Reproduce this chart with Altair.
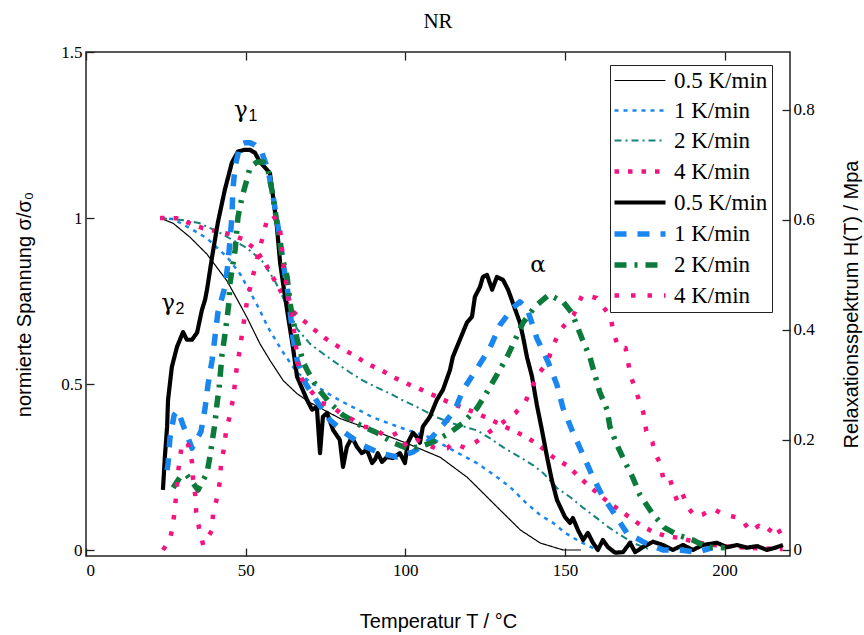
import altair as alt
import pandas as pd

# ---------------- data ----------------
# normalised stress sigma/sigma0 (left axis), thin lines
x_s05 = [23.2, 27.3, 32.6, 37.9, 44.2, 47.3, 50.5, 54.5, 57.7, 61.8, 66.1, 70.2, 79.6, 90.0, 100.6, 111.0,
         119.4, 123.5, 128.2, 132.3, 136.1, 142.3, 149.5, 155.0]
y_s05 = [1.0, 0.984, 0.942, 0.891, 0.81, 0.756, 0.699, 0.621, 0.57, 0.51, 0.471, 0.444, 0.396, 0.36, 0.321, 0.279,
         0.219, 0.18, 0.135, 0.096, 0.06, 0.021, 0.0, 0.0]

x_s1 = [23.2, 27.3, 32.6, 37.9, 44.5, 48.3, 53.6, 57.1, 61.4, 66.1, 74.3, 79.6, 90.0, 98.4, 107.8, 115.0, 122.6,
        128.8, 132.9, 137.6, 142.3, 146.4, 150.2, 154.9, 160.2]
y_s1 = [1.0, 0.997, 0.969, 0.939, 0.879, 0.831, 0.738, 0.669, 0.6, 0.534, 0.48, 0.45, 0.399, 0.369, 0.339, 0.30, 0.261,
        0.219, 0.189, 0.144, 0.105, 0.081, 0.051, 0.024, 0.0]

x_s2 = [23.2, 31.0, 35.7, 41.1, 50.5, 55.2, 59.2, 63.0, 66.1, 70.2, 74.3, 78.7, 82.8, 86.8, 91.2, 95.3, 99.4, 104.7,
        110.0, 115.0, 122.6, 126.6, 130.7, 136.1, 140.1, 143.3, 147.6, 151.7, 155.5, 159.6, 163.6, 167.4, 171.5, 176.8]
y_s2 = [1.0, 0.993, 0.984, 0.96, 0.909, 0.87, 0.81, 0.735, 0.666, 0.621, 0.591, 0.561, 0.534, 0.51, 0.489, 0.471, 0.45,
        0.426, 0.399, 0.381, 0.36, 0.336, 0.309, 0.279, 0.255, 0.231, 0.186, 0.159, 0.129, 0.099, 0.069, 0.045, 0.021, 0.0]

x_s4 = [23.2, 28.5, 32.6, 36.7, 41.1, 45.1, 49.2, 53.0, 56.1, 59.2, 61.8, 63.9, 70.8, 75.2, 79.6, 83.7, 88.1, 92.2,
        96.6, 100.6, 105.0, 109.1, 113.2, 117.9, 121.9, 126.0, 130.4, 134.5, 138.2, 142.3, 146.4, 151.1, 154.2, 158.0,
        163.6, 169.3, 173.7, 177.7, 181.8, 186.2, 190.9, 198.7, 208.2, 218.2]
y_s4 = [1.0, 0.999, 0.984, 0.969, 0.96, 0.951, 0.936, 0.906, 0.864, 0.81, 0.765, 0.726, 0.669, 0.636, 0.609, 0.588,
        0.561, 0.543, 0.519, 0.501, 0.483, 0.465, 0.447, 0.429, 0.414, 0.396, 0.375, 0.357, 0.339, 0.312, 0.279, 0.252,
        0.222, 0.189, 0.144, 0.105, 0.075, 0.054, 0.042, 0.036, 0.024, 0.012, 0.006, 0.003]

# relaxation spectrum H(T) / MPa (right axis), thick lines
x_h05 = [24.1, 24.7, 25.4, 25.7, 26.9, 28.5, 30.4, 31.6, 33.2, 34.8, 36.3, 37.3, 37.9, 39.5, 41.3, 43.5, 45.7, 47.6,
         49.5, 51.4, 52.9, 54.5, 57.6, 58.6, 59.8, 60.8, 61.7, 63.3, 64.8, 66.1, 69.2, 70.8, 72.3, 73.3, 74.2, 75.5,
         77.4, 79.5, 80.5, 81.7, 83.3, 84.9, 86.4, 88.0, 89.6, 90.5, 91.4, 92.7, 94.3, 96.1, 98.3, 99.9, 100.8, 102.4,
         103.7, 104.6, 105.5, 107.7, 109.9, 111.8, 114.0, 114.9, 117.1, 119.3, 120.9, 121.8, 123.4, 124.3, 125.6,
         127.2, 128.7, 130.6, 132.2, 133.7, 135.9, 136.9, 138.1, 139.7, 141.2, 142.8, 144.4, 145.9, 147.5, 150.0,
         151.6, 152.5, 154.1, 155.7, 157.2, 158.8, 160.3, 161.9, 163.5, 165.7, 168.2, 170.4, 172.0, 174.4, 177.6,
         180.7, 183.8, 187.0, 190.1, 193.2, 197.6, 200.8, 203.9, 207.0, 210.2, 213.3, 216.4, 218.3]
y_h05 = [0.109, 0.169, 0.224, 0.273, 0.333, 0.369, 0.396, 0.382, 0.382, 0.395, 0.436, 0.455, 0.473, 0.533, 0.595,
         0.655, 0.704, 0.724, 0.727, 0.727, 0.722, 0.705, 0.685, 0.642, 0.587, 0.522, 0.485, 0.424, 0.369, 0.315,
         0.273, 0.255, 0.26, 0.176, 0.242, 0.249, 0.218, 0.2, 0.151, 0.187, 0.205, 0.187, 0.176, 0.182, 0.158, 0.164,
         0.176, 0.16, 0.169, 0.167, 0.176, 0.158, 0.195, 0.213, 0.205, 0.195, 0.224, 0.242, 0.273, 0.291, 0.327,
         0.351, 0.382, 0.413, 0.424, 0.46, 0.478, 0.496, 0.5, 0.473, 0.496, 0.491, 0.473, 0.449, 0.413, 0.387, 0.351,
         0.315, 0.264, 0.218, 0.169, 0.127, 0.091, 0.06, 0.049, 0.058, 0.036, 0.018, 0.031, 0.013, 0.0, 0.018, 0.005,
         -0.005, -0.004, 0.013, -0.004, 0.005, 0.015, 0.009, 0.0, 0.009, 0.0, 0.009, 0.013, 0.005, 0.009, 0.004,
         0.007, 0.0, 0.005, 0.009]

x_h1 = [25.4, 25.7, 26.3, 27.6, 28.8, 30.4, 33.2, 36.0, 37.3, 38.2, 39.5, 40.4, 41.3, 43.5, 44.5, 45.1, 45.7, 46.0,
        46.7, 48.2, 49.8, 51.4, 52.9, 55.1, 57.0, 58.6, 59.8, 60.8, 61.7, 63.0, 63.9, 64.8, 66.1, 68.6, 72.7, 76.4,
        81.1, 86.4, 92.1, 97.4, 102.4, 106.8, 111.8, 115.6, 118.1, 122.8, 126.5, 129.7, 133.7, 135.9, 138.1, 141.2,
        144.7, 147.5, 149.4, 152.2, 155.3, 158.5, 161.6, 165.7, 169.4, 175.1, 180.7, 186.0, 191.4, 196.1]
y_h1 = [0.145, 0.158, 0.204, 0.245, 0.253, 0.227, 0.185, 0.215, 0.258, 0.3, 0.345, 0.387, 0.431, 0.478, 0.522, 0.564,
        0.605, 0.655, 0.696, 0.736, 0.74, 0.74, 0.736, 0.722, 0.691, 0.642, 0.6, 0.564, 0.522, 0.478, 0.436, 0.387,
        0.345, 0.304, 0.267, 0.236, 0.213, 0.191, 0.176, 0.169, 0.178, 0.195, 0.227, 0.255, 0.291, 0.333, 0.367,
        0.409, 0.44, 0.451, 0.44, 0.385, 0.342, 0.3, 0.258, 0.218, 0.178, 0.136, 0.1, 0.064, 0.031, 0.013, 0.0, 0.0,
        -0.004, 0.004]

x_h2 = [27.3, 29.5, 31.6, 35.1, 37.9, 38.8, 40.4, 41.0, 41.7, 42.6, 43.5, 44.2, 44.8, 45.1, 46.7, 47.6, 48.9, 50.4,
        51.4, 53.6, 55.4, 57.0, 58.6, 60.1, 61.4, 63.0, 63.9, 64.8, 66.4, 68.0, 69.5, 72.3, 76.4, 80.5, 85.8, 91.1,
        96.1, 100.5, 104.0, 108.7, 114.0, 118.1, 122.5, 125.6, 128.7, 131.9, 134.4, 136.9, 140.6, 145.0, 149.4, 152.2,
        155.3, 157.8, 160.9, 163.2, 164.1, 166.3, 168.8, 171.3, 173.5, 177.3, 181.3, 185.4, 190.1, 194.5, 200.1]
y_h2 = [0.113, 0.133, 0.136, 0.109, 0.14, 0.169, 0.231, 0.264, 0.295, 0.355, 0.391, 0.422, 0.451, 0.485, 0.545, 0.605,
        0.642, 0.673, 0.696, 0.705, 0.705, 0.691, 0.642, 0.582, 0.533, 0.496, 0.449, 0.418, 0.376, 0.342, 0.324, 0.296,
        0.267, 0.245, 0.227, 0.213, 0.195, 0.185, 0.187, 0.196, 0.213, 0.231, 0.258, 0.287, 0.318, 0.351, 0.382, 0.413,
        0.442, 0.464, 0.451, 0.431, 0.385, 0.351, 0.287, 0.255, 0.224, 0.191, 0.16, 0.131, 0.1, 0.067, 0.04, 0.027,
        0.018, 0.005, 0.004]

x_h4 = [24.1, 26.3, 27.3, 27.9, 28.8, 29.5, 30.1, 32.0, 33.2, 33.5, 34.2, 34.5, 35.4, 36.7, 39.5, 39.8, 41.1, 42.0,
        42.3, 43.3, 43.9, 45.1, 46.1, 46.7, 47.3, 48.3, 48.9, 49.8, 50.5, 53.0, 53.9, 56.7, 58.6, 60.8, 61.8, 63.3,
        64.6, 65.5, 66.5, 67.7, 70.2, 73.4, 76.5, 79.6, 83.7, 86.5, 90.0, 94.4, 97.5, 100.6, 103.8, 106.9, 109.4,
        113.2, 115.0, 118.8, 121.9, 126.0, 130.4, 134.5, 137.6, 141.4, 144.5, 146.1, 148.6, 152.7, 155.5, 159.9,
        164.3, 165.2, 166.8, 169.0, 170.5, 173.0, 174.6, 175.5, 177.4, 178.1, 179.9, 180.9, 182.8, 184.0, 185.3,
        186.8, 188.7, 190.9, 193.1, 196.2, 199.7, 205.0, 208.2, 210.7, 213.5, 215.7, 218.2]
y_h4 = [0.0, 0.018, 0.049, 0.078, 0.14, 0.169, 0.196, 0.191, 0.16, 0.131, 0.1, 0.069, 0.04, 0.009, 0.036, 0.067, 0.096,
        0.127, 0.158, 0.187, 0.218, 0.245, 0.276, 0.305, 0.336, 0.367, 0.396, 0.427, 0.455, 0.515, 0.536, 0.6, 0.609,
        0.582, 0.522, 0.46, 0.424, 0.382, 0.336, 0.309, 0.291, 0.267, 0.264, 0.249, 0.236, 0.224, 0.222, 0.204, 0.213,
        0.187, 0.2, 0.191, 0.185, 0.185, 0.195, 0.185, 0.195, 0.213, 0.231, 0.249, 0.269, 0.318, 0.34, 0.369, 0.4,
        0.427, 0.464, 0.458, 0.424, 0.395, 0.367, 0.367, 0.318, 0.276, 0.249, 0.216, 0.196, 0.178, 0.156, 0.127,
        0.131, 0.107, 0.087, 0.102, 0.076, 0.06, 0.064, 0.076, 0.064, 0.058, 0.033, 0.044, 0.031, 0.047, 0.024]

# series keys (prefix letter keeps duplicates distinct, stripped in the legend)
keys = ["a 0.5 K/min", "b 1 K/min", "c 2 K/min", "d 4 K/min",
        "e 0.5 K/min", "f 1 K/min", "g 2 K/min", "h 4 K/min"]

# annotations
label_x = [48.5, 25.7, 141.6]
label_y = [1.325, 0.744, 0.858]
label_main = ["γ", "γ", "α"]
label_sub = ["1", "2", ""]

x_ticks = [0, 50, 100, 150, 200]
yl_ticks = [0, 0.5, 1, 1.5]
yr_ticks = [0, 0.2, 0.4, 0.6, 0.8]

# ---------------- styles ----------------
colors = ["#000000", "#1a86f0", "#14837d", "#f5137f", "#000000", "#1a86f0", "#0b7a3b", "#f5137f"]
dashes = [[1, 0], [4, 5], [7, 4, 2, 4], [4.5, 9], [1, 0], [12, 11], [12, 8, 3, 8], [4.5, 12]]
widths = [1.2, 2.5, 2.0, 4.5, 4.2, 5.5, 5.5, 4.5]


def long(xs, ys, key):
    return pd.DataFrame({"x": xs, "y": ys, "series": key})


stress_df = pd.concat([long(x_s05, y_s05, keys[0]), long(x_s1, y_s1, keys[1]),
                       long(x_s2, y_s2, keys[2]), long(x_s4, y_s4, keys[3])], ignore_index=True)
spec_df = pd.concat([long(x_h05, y_h05, keys[4]), long(x_h1, y_h1, keys[5]),
                     long(x_h2, y_h2, keys[6]), long(x_h4, y_h4, keys[7])], ignore_index=True)
lab_df = pd.DataFrame({"x": label_x, "y": label_y, "t": label_main, "s": label_sub})

xs = alt.Scale(domain=[0, 220.5], nice=False, zero=False)
yl = alt.Scale(domain=[-0.018, 1.5], nice=False, zero=False)
yr = alt.Scale(domain=[-0.011, 0.905], nice=False, zero=False)

legend = alt.Legend(
    title=None, orient="none", legendX=524, legendY=13,
    labelExpr="substring(datum.label, 2)",
    labelFont="Liberation Serif", labelFontSize=23, labelColor="black",
    symbolType="M-2.55,0H2.55", symbolSize=400, symbolOffset=13, labelOffset=21,
    rowPadding=6, padding=4, strokeColor="#222", fillColor="white",
)

color = alt.Color("series:N", scale=alt.Scale(domain=keys, range=colors), legend=legend)
sdash = alt.StrokeDash("series:N", scale=alt.Scale(domain=keys, range=dashes), legend=legend)
swidth = alt.StrokeWidth("series:N", scale=alt.Scale(type="ordinal", domain=keys, range=widths), legend=legend)

ax_common = dict(offset=-8, tickSize=8, tickWidth=1.3, tickColor="#222", domain=False, grid=False)

x_bottom = alt.Axis(orient="bottom", values=x_ticks, labelPadding=6, title="Temperatur T / °C",
                    titlePadding=33, format="d", **ax_common)
x_top = alt.Axis(orient="top", values=x_ticks, labels=False, title=None, **ax_common)
y_left = alt.Axis(orient="left", values=yl_ticks, labelPadding=4, title="normierte Spannung σ/σ₀",
                  titlePadding=26, format="~g", **ax_common)
y_right = alt.Axis(orient="right", values=yr_ticks, labelPadding=3, title="Relaxationsspektrum H(T) / Mpa",
                   titleAngle=270, titlePadding=47, format="~g", **ax_common)

stress = alt.Chart(stress_df).mark_line(strokeCap="butt", strokeJoin="round").encode(
    x=alt.X("x:Q", scale=xs, axis=x_bottom),
    y=alt.Y("y:Q", scale=yl, axis=y_left),
    color=color, strokeDash=sdash, strokeWidth=swidth,
)
spectrum = alt.Chart(spec_df).mark_line(strokeCap="butt", strokeJoin="round").encode(
    x=alt.X("x:Q", scale=xs, axis=x_top),
    y=alt.Y("y:Q", scale=yr, axis=y_right),
    color=color, strokeDash=sdash, strokeWidth=swidth,
)
main_txt = alt.Chart(lab_df).mark_text(font="DejaVu Serif", fontSize=23, color="black").encode(
    x=alt.X("x:Q", scale=xs, axis=None),
    y=alt.Y("y:Q", scale=yl, axis=None),
    text="t:N",
)
sub_txt = alt.Chart(lab_df).mark_text(font="Liberation Sans", fontSize=16, color="black", dx=12, dy=6).encode(
    x=alt.X("x:Q", scale=xs, axis=None),
    y=alt.Y("y:Q", scale=yl, axis=None),
    text="s:N",
)

chart = alt.layer(stress, spectrum, main_txt, sub_txt).resolve_scale(
    y="independent"
).resolve_axis(
    x="independent", y="independent"
).properties(
    width=704, height=504,
    title=alt.TitleParams("NR", font="Liberation Serif", fontSize=21, fontWeight="normal", color="black",
                          offset=11, anchor="middle"),
    autosize=alt.AutoSizeParams(type="none"),
    padding={"left": 86, "top": 52, "right": 74, "bottom": 79},
).configure_view(
    stroke="#222", strokeWidth=1.5
).configure_axis(
    labelFont="Liberation Serif", labelFontSize=17, labelColor="black",
    titleFont="Liberation Sans", titleFontSize=20, titleFontWeight="normal", titleColor="black",
)

chart.save("out.html", embed_options={"renderer": "svg", "actions": False})
